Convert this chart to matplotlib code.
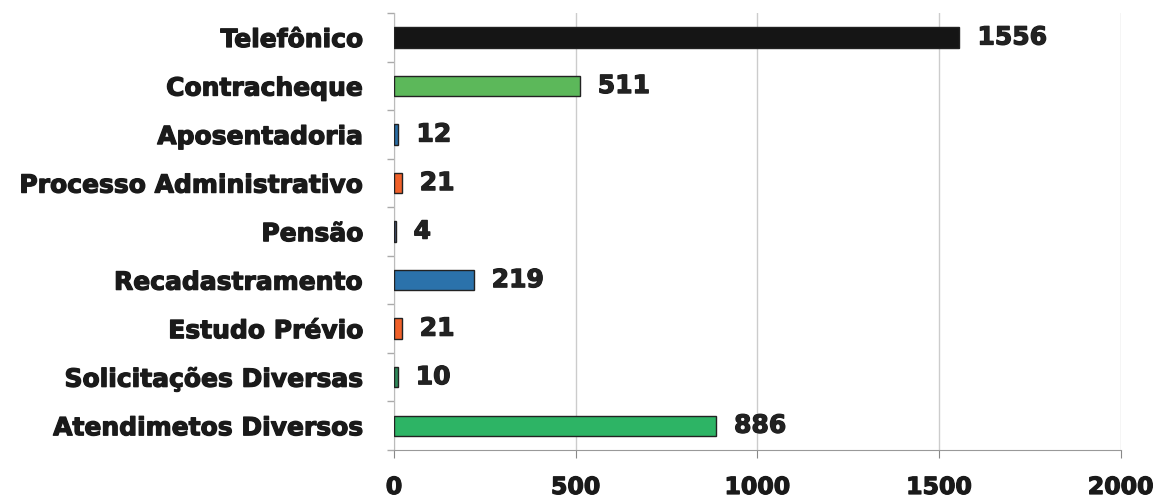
import matplotlib
matplotlib.use("Agg")
import matplotlib.pyplot as plt
import matplotlib.patheffects as pe
import numpy as np

categories = ["Telefônico", "Contracheque", "Aposentadoria", "Processo Administrativo",
              "Pensão", "Recadastramento", "Estudo Prévio", "Solicitações Diversas",
              "Atendimetos Diversos"]
values = [1556, 511, 12, 21, 4, 219, 21, 10, 886]
colors = ["#151515", "#5cb85a", "#2a6ea6", "#f0612a", "#4a5a80", "#2b72ab",
          "#f0612a", "#2f8a5a", "#2db465"]
xticks = [0, 500, 1000, 1500, 2000]

plt.rcParams['font.family'] = ['DejaVu Sans']
fig = plt.figure(figsize=(11.59, 5.02), dpi=100)
ax = fig.add_axes([0.340, 0.1016, 0.627, 0.870])

heavy = [pe.withStroke(linewidth=0.9, foreground="#1a1a1a")]

y = np.arange(len(categories))
ax.barh(y, values, height=0.42, color=colors, edgecolor="#222222", linewidth=1.0, zorder=3)
ax.set_ylim(len(categories) - 0.5, -0.5)
ax.set_xlim(0, 2000)
ax.set_xticks(xticks)
ax.set_xticklabels([str(t) for t in xticks], fontsize=17, fontweight="bold", color="#1a1a1a")
ax.set_yticks(y)
ax.set_yticklabels(categories, fontsize=18, fontweight="bold", color="#1a1a1a")
ax.tick_params(axis="y", length=0, pad=22)
ax.set_yticks(np.arange(-0.5, len(categories) + 0.5, 1), minor=True)
ax.tick_params(axis="y", which="minor", length=5, color="#aaaaaa", width=1)
ax.tick_params(axis="x", length=6, color="#888888", pad=12)
for lbl in ax.get_xticklabels() + ax.get_yticklabels():
    lbl.set_path_effects(heavy)

ax.grid(axis="x", color="#cccccc", linewidth=1, zorder=0)
for s in ["top", "right"]:
    ax.spines[s].set_visible(False)
ax.spines["left"].set_color("#bbbbbb")
ax.spines["bottom"].set_color("#999999")

for yi, v in zip(y, values):
    ax.annotate(str(v), (v, yi), xytext=(13, 0), textcoords="offset points",
                va="center", ha="left", fontsize=18, fontweight="bold", color="#222222",
                path_effects=heavy)

fig.savefig("out.png", dpi=100)
